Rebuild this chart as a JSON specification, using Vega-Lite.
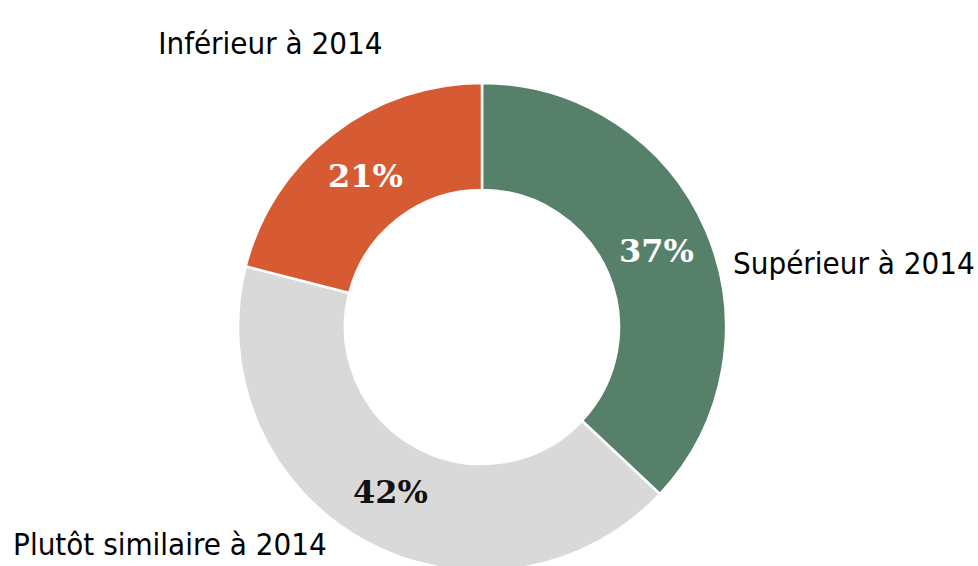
{
  "$schema": "https://vega.github.io/schema/vega-lite/v6.json",
  "width": 978,
  "height": 566,
  "autosize": {"type": "none"},
  "padding": 0,
  "background": "white",
  "view": {"stroke": null},
  "data": {
    "values": [
      {"categorie": "Supérieur à 2014", "part": 37, "etiquette": "37%", "ordre": 1},
      {"categorie": "Plutôt similaire à 2014", "part": 42, "etiquette": "42%", "ordre": 2},
      {"categorie": "Inférieur à 2014", "part": 21, "etiquette": "21%", "ordre": 3}
    ]
  },
  "encoding": {
    "theta": {"field": "part", "type": "quantitative", "stack": true},
    "order": {"field": "ordre", "type": "quantitative"}
  },
  "layer": [
    {
      "mark": {"type": "arc", "outerRadius": 244, "innerRadius": 137, "stroke": "white", "strokeWidth": 2.5, "xOffset": -7, "yOffset": 44},
      "encoding": {
        "color": {
          "field": "categorie", "type": "nominal",
          "scale": {"domain": ["Supérieur à 2014", "Plutôt similaire à 2014", "Inférieur à 2014"], "range": ["#57806B", "#D9D9D9", "#D65B33"]},
          "legend": null
        }
      }
    },
    {
      "mark": {"type": "text", "radius": 190, "font": "DejaVu Serif", "fontWeight": "bold", "fontSize": 32, "baseline": "middle", "align": "center", "xOffset": -7, "yOffset": 44},
      "encoding": {
        "text": {"field": "etiquette"},
        "color": {"condition": {"test": "datum.categorie === 'Plutôt similaire à 2014'", "value": "#111111"}, "value": "white"}
      }
    },
    {
      "mark": {"type": "text", "radius": 254, "font": "DejaVu Sans Condensed, Liberation Sans", "fontSize": 31, "baseline": "middle", "align": "left", "xOffset": -7, "yOffset": 44, "dx": 18, "dy": 39, "color": "black"},
      "encoding": {
        "text": {"condition": {"test": "datum.categorie === 'Supérieur à 2014'", "field": "categorie"}, "value": ""}
      }
    },
    {
      "mark": {"type": "text", "radius": 254, "font": "DejaVu Sans Condensed, Liberation Sans", "fontSize": 31, "baseline": "middle", "align": "center", "xOffset": -7, "yOffset": 44, "dx": -56, "dy": -81, "color": "black"},
      "encoding": {
        "text": {"condition": {"test": "datum.categorie === 'Inférieur à 2014'", "field": "categorie"}, "value": ""}
      }
    },
    {
      "mark": {"type": "text", "radius": 254, "font": "DejaVu Sans Condensed, Liberation Sans", "fontSize": 31, "baseline": "middle", "align": "right", "xOffset": -7, "yOffset": 44, "dx": -33, "dy": -4, "color": "black"},
      "encoding": {
        "text": {"condition": {"test": "datum.categorie === 'Plutôt similaire à 2014'", "field": "categorie"}, "value": ""}
      }
    }
  ]
}
